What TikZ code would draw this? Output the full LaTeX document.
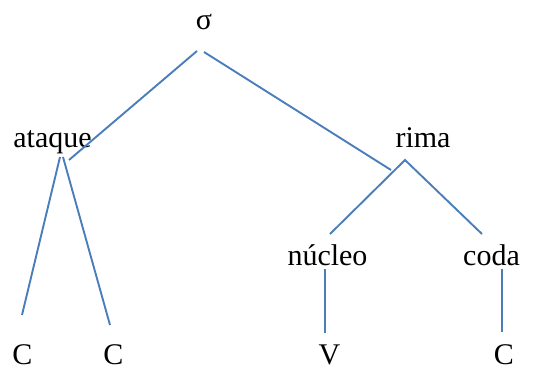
\documentclass[tikz,border=0pt]{standalone}
\usepackage{fontspec}
\setmainfont{Liberation Serif}
\usepackage{tikz}
\usetikzlibrary{positioning}

\definecolor{branch}{HTML}{4A7EBB}

\begin{document}
\begin{tikzpicture}[
    x=1pt, y=-1pt,
    lbl/.style={anchor=base, inner sep=0pt, font=\fontsize{30}{36}\selectfont},
    br/.style={draw=branch, line width=1.9pt},
]
\useasboundingbox (0,0) rectangle (539,367);

% ── Labels ──
\node[lbl] (sigma) at (204, 29) {σ};
\node[lbl] (ataque) at (52.5, 147) {ataque};
\node[lbl] (rima) at (423, 147) {rima};
\node[lbl] (nucleo) at (327.5, 265) {núcleo};
\node[lbl] (coda) at (491.5, 265) {coda};
\node[lbl] (c1) at (22.5, 364) {C};
\node[lbl] (c2) at (113.5, 364) {C};
\node[lbl] (v) at (329.5, 364) {V};
\node[lbl] (c3) at (504, 364) {C};

% ── Branch ends ──
\coordinate (sig-l) at (197, 51);
\coordinate (sig-r) at (204, 52);
\coordinate (ata-in) at (69, 160);
\coordinate (rim-in) at (391, 170);
\coordinate (ata-l) at (60, 157);
\coordinate (ata-r) at (63, 157);
\coordinate (c1-in) at (22, 315);
\coordinate (c2-in) at (110, 325);
\coordinate (rim-top) at (405, 160);
\coordinate (nuc-in) at (330, 234);
\coordinate (cod-in) at (482, 234);
\coordinate (nuc-out) at (325, 269);
\coordinate (v-in) at (325, 333);
\coordinate (cod-out) at (502, 269);
\coordinate (c3-in) at (502, 332);

% ── Branches ──
\draw[br] (sig-l) -- (ata-in);
\draw[br] (sig-r) -- (rim-in);
\draw[br] (ata-l) -- (c1-in);
\draw[br] (ata-r) -- (c2-in);
\draw[br] (nuc-in) -- (rim-top) -- (cod-in);
\draw[br] (nuc-out) -- (v-in);
\draw[br] (cod-out) -- (c3-in);

\end{tikzpicture}
\end{document}
